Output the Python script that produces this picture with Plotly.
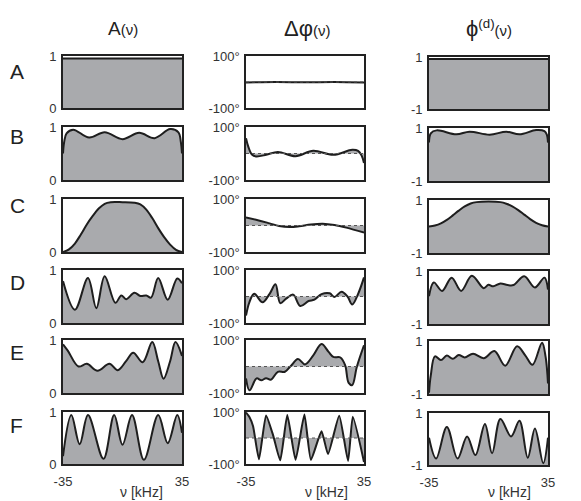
import plotly.graph_objects as go
from plotly.subplots import make_subplots

# frequency axis range and y ranges of the three columns
NU_RANGE = [-35, 35]
AMP_RANGE = [0, 1]
PHASE_RANGE = [-100, 100]
PHI_RANGE = [-1, 1]

col_titles = ["A<span style='font-size:15px'>(ν)</span>",
              "<span style='font-size:22px'>Δφ</span><span style='font-size:15px'>(ν)</span>",
              "<span style='font-size:22px'>ϕ</span><sup>(d)</sup><span style='font-size:15px'>(ν)</span>"]
row_labels = ["A", "B", "C", "D", "E", "F"]

# ---- row A ----
nu_a_amp = [-35, 0, 35]
a_amp = [0.95, 0.95, 0.95]
nu_a_phase = [-35, -17.5, 0, 17.5, 35]
a_phase = [-2, 0, -1, 0, -2]
nu_a_phi = [-35, 0, 35]
a_phi = [0.92, 0.92, 0.92]

# ---- row B ----
nu_b_amp = [-35, -34.3, -32.9, -29, -19.6, -10.5, 0, 9.8, 18.9, 28, 32.9, 34.3, 35]
b_amp = [0.5, 0.72, 0.88, 0.95, 0.8, 0.9, 0.77, 0.89, 0.79, 0.96, 0.9, 0.72, 0.5]
nu_b_phase = [-35, -33.6, -31.5, -29, -23, -16.1, -5.6, 4.9, 16.8, 28, 31.5, 33.6, 35]
b_phase = [58, 25, -4, -11, -5, 6, -10, 10, -5, 14, 10, -8, -36]
nu_b_phi = [-35, -33.95, -30.5, -18.9, -11.2, 0.7, 10.5, 18.2, 28, 32.9, 34.3, 35]
b_phi = [0.45, 0.8, 0.91, 0.76, 0.86, 0.75, 0.86, 0.76, 0.92, 0.88, 0.75, 0.45]

# ---- row C ----
nu_c_amp = [-35, -31.5, -28, -24.5, -21, -17.5, -14, -10.5, -7, 0, 7, 10.5, 14, 17.5, 21, 24.5, 28, 31.5, 35]
c_amp = [0.0, 0.05, 0.16, 0.33, 0.52, 0.68, 0.82, 0.91, 0.94, 0.94, 0.93, 0.9, 0.8, 0.64, 0.45, 0.28, 0.14, 0.04, 0.0]
nu_c_phase = [-35, -28, -21, -15.4, -9.1, -3.5, 3.5, 10.5, 17.5, 24.5, 35]
c_phase = [30, 20, 8, -2, -6, -3, 4, 7, 2, -8, -27]
nu_c_phi = [-35, -31.5, -28, -24.5, -21, -17.5, -14, -10.5, -7, 0, 7, 10.5, 14, 17.5, 21, 24.5, 28, 31.5, 35]
c_phi = [0.0, 0.04, 0.12, 0.25, 0.42, 0.6, 0.76, 0.87, 0.92, 0.94, 0.92, 0.86, 0.76, 0.62, 0.45, 0.28, 0.14, 0.05, 0.0]

# ---- row D ----
nu_d_amp = [-35, -28, -20.3, -15.4, -10.5, -4.2, -0.7, 2.1, 7, 10.5, 14, 16.8, 21, 26.6, 32.2, 35]
d_amp = [0.79, 0.25, 0.85, 0.28, 0.88, 0.38, 0.52, 0.45, 0.57, 0.51, 0.52, 0.48, 0.85, 0.44, 0.84, 0.75]
nu_d_phase = [-35, -32.9, -30.1, -25.2, -21, -17.5, -14.7, -11.2, -7, -2.8, 2.1, 5.6, 9.8, 14.7, 17.5, 21.7, 25.2, 28, 31.5, 35]
d_phase = [-72, -20, 10, -22, 10, 46, -25, -8, 7, -36, -17, -12, 9, 12, -2, 18, 0, -30, 10, 72]
nu_d_phi = [-35, -32.2, -27.3, -21.7, -16.1, -9.8, -2.8, 0, 2.8, 7, 11.2, 14.7, 21, 27.3, 32.9, 35]
d_phi = [0.05, 0.57, 0.25, 0.75, 0.25, 0.82, 0.35, 0.48, 0.42, 0.53, 0.47, 0.47, 0.8, 0.38, 0.75, 0.3]

# ---- row E ----
nu_e_amp = [-35, -32.2, -25.9, -21, -14.7, -7.7, -2.8, 2.1, 6.3, 11.9, 17.5, 21, 24.15, 28, 31.15, 35]
e_amp = [0.92, 0.8, 0.5, 0.55, 0.42, 0.55, 0.43, 0.6, 0.76, 0.58, 0.96, 0.6, 0.27, 0.6, 0.96, 0.7]
nu_e_phase = [-35, -32.9, -28.7, -25.9, -23.1, -20.3, -16.1, -11.9, -8.4, -4.2, 0, 4.9, 9.8, 14, 16.8, 21, 23.8, 25.9, 28, 30.8, 35]
e_phase = [-45, -90, -45, -52, -44, -50, -20, -20, 2, 28, 8, 42, 85, 55, 36, 34, 5, -62, -70, 0, 80]
nu_e_phi = [-35, -33.95, -31.5, -28, -24.5, -21, -17.5, -14, -9.1, -2.8, 3.5, 9.8, 16.8, 21.7, 25.9, 31.5, 33.6, 35]
e_phi = [-0.95, -0.3, 0.42, 0.28, 0.45, 0.33, 0.47, 0.38, 0.52, 0.35, 0.62, 0.07, 0.8, 0.45, 0.1, 0.93, 0.4, -0.6]

# ---- row F ----
nu_f_amp = [-35, -30.1, -25.2, -20.3, -11.2, -4.9, 0, 5.6, 12.6, 21, 26.6, 32.2, 35]
f_amp = [0.15, 0.94, 0.38, 0.94, 0.1, 0.94, 0.37, 0.94, 0.08, 0.94, 0.4, 0.94, 0.6]
nu_f_phase = [-35, -32.9, -30.8, -27.3, -23.1, -18.9, -14.7, -10.5, -5.6, -0.35, 3.5, 9.8, 13.65, 20.3, 25.55, 28.35, 35]
f_phase = [98, 80, 45, -82, 87, 10, -86, 88, -84, 90, -84, 26, -62, 86, -88, 82, -92]
nu_f_phi = [-35, -30.8, -24.5, -18.2, -12.6, -7.7, -2.1, 2.1, 7, 13.3, 18.2, 23.1, 27.3, 32.2, 35]
f_phi = [0.05, -0.75, 0.46, -0.75, 0.1, -0.62, 0.58, -0.55, 0.77, 0.1, 0.7, -0.72, 0.4, -0.93, 0.05]

rows = [
    [(nu_a_amp, a_amp), (nu_a_phase, a_phase), (nu_a_phi, a_phi)],
    [(nu_b_amp, b_amp), (nu_b_phase, b_phase), (nu_b_phi, b_phi)],
    [(nu_c_amp, c_amp), (nu_c_phase, c_phase), (nu_c_phi, c_phi)],
    [(nu_d_amp, d_amp), (nu_d_phase, d_phase), (nu_d_phi, d_phi)],
    [(nu_e_amp, e_amp), (nu_e_phase, e_phase), (nu_e_phi, e_phi)],
    [(nu_f_amp, f_amp), (nu_f_phase, f_phase), (nu_f_phi, f_phi)],
]

# the page body adds an 8px margin, so the figure is made smaller and
# every layout position below is given in window pixels minus that offset
PAGE = 8
W, H = 581 - PAGE, 501 - PAGE
FILL = "#a9aaad"
LINE = "#1e1e1e"
FONT = "Arial, Liberation Sans, sans-serif"


def px_x(x):
    return (x - PAGE) / W


def px_y(y):
    return 1 - (y - PAGE) / H


# panel pixel boxes (window pixels)
col_px = [(63, 182), (246, 364), (429, 548)]
row_px = [(56, 108), (127, 180), (199, 252), (270, 323), (340, 393), (412, 464)]
label_y = [71, 136, 206, 282, 352, 425]

fig = make_subplots(rows=6, cols=3)

for r, row in enumerate(rows):
    for c, (nu, val) in enumerate(row):
        R, C = r + 1, c + 1
        smooth = 0.5 if (r == 5 and c == 1) else 1.0
        line = dict(color=LINE, width=2, shape="spline", smoothing=smooth)
        if c == 2:
            # phi column is filled down to the bottom of its axis (-1)
            fig.add_trace(go.Scatter(x=nu, y=[PHI_RANGE[0]] * len(nu), mode="lines",
                                     line=dict(width=0), showlegend=False, hoverinfo="skip"),
                          row=R, col=C)
            fig.add_trace(go.Scatter(x=nu, y=val, mode="lines", fill="tonexty", fillcolor=FILL,
                                     line=line, showlegend=False, hoverinfo="skip"), row=R, col=C)
        else:
            fig.add_trace(go.Scatter(x=nu, y=val, mode="lines", fill="tozeroy", fillcolor=FILL,
                                     line=line, showlegend=False, hoverinfo="skip"), row=R, col=C)
        if c == 1:
            fig.add_hline(y=0, row=R, col=C, line=dict(color="#555", width=1, dash="dot"))

        x0, x1 = col_px[c]
        y0, y1 = row_px[r]
        if c == 2:
            y0, y1 = y0 + 1, y1 + 1
        fig.update_xaxes(domain=[px_x(x0), px_x(x1)], range=NU_RANGE, showgrid=False, zeroline=False,
                         showline=True, mirror=True, linecolor="#222", linewidth=1.6,
                         ticks="", tickvals=NU_RANGE, ticktext=["-35", "35"],
                         showticklabels=(r == 5), ticklabelstandoff=5, automargin=False,
                         tickfont=dict(size=13, color="#333", family=FONT), row=R, col=C)
        if c == 0:
            yr, tt = AMP_RANGE, ["0", "1"]
        elif c == 1:
            yr, tt = PHASE_RANGE, ["-100°", "100°"]
        else:
            yr, tt = PHI_RANGE, ["-1", "1"]
        fig.update_yaxes(domain=[px_y(y1), px_y(y0)], range=yr, showgrid=False, zeroline=False,
                         showline=True, mirror=True, linecolor="#222", linewidth=1.6,
                         ticks="", tickvals=yr, ticktext=tt, ticklabelstandoff=2, automargin=False,
                         tickfont=dict(size=13, color="#333", family=FONT), row=R, col=C)

annotations = []
title_x = [123, 307, 489]
for c, t in enumerate(col_titles):
    annotations.append(dict(text=t, x=px_x(title_x[c]), y=px_y(28), xref="paper", yref="paper",
                            showarrow=False, xanchor="center", yanchor="middle",
                            font=dict(size=19, color="#222", family=FONT)))
for r, lab in enumerate(row_labels):
    annotations.append(dict(text=lab, x=0, y=px_y(label_y[r]), xref="paper", yref="paper",
                            showarrow=False, xanchor="left", yanchor="middle",
                            font=dict(size=21, color="#222", family=FONT)))
for xc in [141, 326, 509]:
    annotations.append(dict(text="ν [kHz]", x=px_x(xc), y=px_y(492), xref="paper", yref="paper",
                            showarrow=False, xanchor="center", yanchor="middle",
                            font=dict(size=14, color="#333", family=FONT)))

fig.update_layout(width=W, height=H, margin=dict(l=0, r=0, t=0, b=0),
                  paper_bgcolor="white", plot_bgcolor="white",
                  annotations=annotations, showlegend=False)

fig.write_html("out.html")
